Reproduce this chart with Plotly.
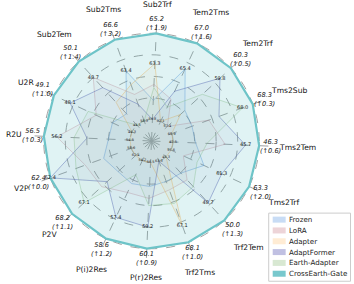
import math
import plotly.graph_objects as go

# ---------------- data ----------------
axes_names = ["Sub2Trf", "Tem2Tms", "Tem2Trf", "Tms2Sub", "Tms2Tem", "Tms2Trf", "Trf2Tem", "Trf2Tms",
              "P(r)2Res", "P(i)2Res", "P2V", "V2P", "R2U", "U2R", "Sub2Tem", "Sub2Tms"]

frozen       = [61.0, 65.4, 58.2, 66.5, 43.5, 60.0, 46.5, 64.5, 57.5, 55.5, 64.0, 59.5, 55.0, 45.5, 45.5, 63.4]
lora         = [62.0, 63.5, 57.4, 67.0, 44.8, 58.5, 47.0, 65.0, 58.0, 56.0, 65.5, 60.5, 56.2, 46.5, 48.7, 61.0]
adapter      = [63.3, 62.1, 58.0, 65.9, 42.5, 57.6, 45.3, 67.1, 56.5, 54.2, 62.4, 58.0, 54.5, 44.3, 46.5, 62.0]
adaptformer  = [59.8, 64.0, 59.8, 67.3, 45.7, 61.3, 48.7, 63.3, 59.2, 57.4, 65.0, 62.4, 55.5, 48.1, 47.8, 60.0]
earthadapter = [61.8, 63.0, 59.0, 68.0, 44.0, 59.5, 47.5, 65.8, 58.3, 55.0, 67.1, 61.0, 55.8, 47.0, 44.5, 58.3]
crossearth   = [65.2, 67.0, 60.3, 68.3, 46.3, 63.3, 50.0, 68.1, 60.1, 58.6, 68.2, 62.4, 56.5, 49.1, 50.1, 66.6]

series_names = ["Frozen", "LoRA", "Adapter", "AdaptFormer", "Earth-Adapter", "CrossEarth-Gate"]
series_values = [frozen, lora, adapter, adaptformer, earthadapter, crossearth]

# ---------------- styles ----------------
line_cols = ["rgba(90,150,225,0.45)", "rgba(200,120,135,0.35)", "rgba(255,190,110,0.55)",
             "rgba(80,80,170,0.45)", "rgba(130,180,110,0.35)", "rgb(110,196,200)"]
fill_cols = ["rgba(90,150,225,0.06)", "rgba(200,120,135,0.05)", "rgba(255,190,110,0.06)",
             "rgba(80,80,170,0.05)", "rgba(130,180,110,0.05)", "rgba(100,195,200,0.20)"]
swatch_cols = ["rgb(200,220,245)", "rgb(237,212,216)", "rgb(255,236,212)",
               "rgb(192,192,226)", "rgb(216,232,210)", "rgb(120,200,205)"]

n = len(axes_names)
baselines = series_values[:-1]
lo = [min(s[i] for s in series_values) for i in range(n)]
hi = [max(s[i] for s in series_values) for i in range(n)]
best_base = [max(s[i] for s in baselines) for i in range(n)]


def norm(vals):
    return [0.2 + 0.8 * (v - lo[i]) / (hi[i] - lo[i]) for i, v in enumerate(vals)]


fig = go.Figure()
theta_closed = axes_names + [axes_names[0]]
for k, (name, vals) in enumerate(zip(series_names, series_values)):
    r = norm(vals)
    fig.add_trace(go.Scatterpolar(
        r=r + [r[0]], theta=theta_closed, name=name, mode="lines",
        fill="toself", fillcolor=fill_cols[k], showlegend=False,
        line=dict(color=line_cols[k], width=2.2 if k == 5 else 1.0),
        hoverinfo="skip"))

fig.add_trace(go.Scatterpolar(
    r=[0.2] * n, theta=axes_names, mode="text", showlegend=False,
    text=[f"{v:.1f}" for v in lo], textfont=dict(size=3.5, color="#222", family="DejaVu Sans"),
    hoverinfo="skip"))
fig.add_trace(go.Scatterpolar(
    r=norm(best_base), theta=axes_names, mode="text", showlegend=False,
    text=[f"{v:.1f}" for v in best_base], textfont=dict(size=5, color="#222", family="DejaVu Sans"),
    hoverinfo="skip"))

# ---------------- layout ----------------
W, H = 354, 284
SCX, SCY = 151.5, 141          # polar centre in pixels
R1 = 108.0                     # pixel radius of r = 1
rmax = 1.1
ml = SCX - R1 * rmax
mt = SCY - R1 * rmax
side = 2 * R1 * rmax
mr = W - ml - side
mb = H - mt - side
rot = 87.5


def to_paper(px, py):
    return (px - ml) / side, (H - mb - py) / side


annotations = []
for i in range(n):
    ang = math.radians(rot - 360.0 / n * i)
    c, s = math.cos(ang), math.sin(ang)
    hw = 2.5 * len(axes_names[i])
    r_name = 132.0 + 0.8 * abs(c) * hw + 3.5 * abs(s)
    r_val = 113.0 + 6.5 * abs(c) + 4.0 * abs(s)
    for rad, txt, fnt in [
        (r_name, axes_names[i], dict(size=7.6, family="DejaVu Sans", color="#111")),
        (r_val, f"<i>{crossearth[i]:.1f}</i><br><i>(\u2191{crossearth[i] - best_base[i]:.1f})</i>",
         dict(size=6.6, family="DejaVu Sans", color="#111")),
    ]:
        x, y = to_paper(SCX + rad * c, SCY - rad * s)
        annotations.append(dict(
            x=x, y=y, xref="paper", yref="paper", borderpad=0, borderwidth=0,
            text=txt, showarrow=False, xanchor="center", yanchor="middle", align="center",
            font=fnt))

# custom legend (box, swatches, labels)
shapes = []
lx0, ly0, lx1, ly1 = 269, 213, 351, 281
bx0, by0 = to_paper(lx0, ly1)
bx1, by1 = to_paper(lx1, ly0)
shapes.append(dict(type="rect", xref="paper", yref="paper", x0=bx0, y0=by0, x1=bx1, y1=by1,
                   line=dict(color="#cccccc", width=1), fillcolor="rgba(255,255,255,0.9)", layer="above"))
for k, name in enumerate(series_names):
    yc = 219.5 + k * 10.8
    sx0, sy0 = to_paper(273, yc + 3)
    sx1, sy1 = to_paper(286, yc - 3)
    shapes.append(dict(type="rect", xref="paper", yref="paper", x0=sx0, y0=sy0, x1=sx1, y1=sy1,
                       line=dict(width=0), fillcolor=swatch_cols[k], layer="above"))
    tx, ty = to_paper(288.5, yc)
    annotations.append(dict(x=tx, y=ty, xref="paper", yref="paper", text=name, showarrow=False,
                            xanchor="left", yanchor="middle", borderpad=0,
                            font=dict(size=7.1, family="DejaVu Sans", color="#222")))

fig.update_layout(
    width=W, height=H,
    margin=dict(l=ml, r=mr, t=mt, b=mb, pad=0, autoexpand=False),
    paper_bgcolor="white",
    showlegend=False,
    hovermode=False,
    polar=dict(
        bgcolor="white",
        domain=dict(x=[0, 1], y=[0, 1]),
        radialaxis=dict(range=[0, rmax], tickvals=[0.2, 0.4, 0.6, 0.8, 1.0], showticklabels=False,
                        ticks="", showline=False, gridcolor="#a0a0a0", gridwidth=0.6, griddash="dash"),
        angularaxis=dict(rotation=rot, direction="clockwise", showticklabels=False, ticks="",
                         showline=False, gridcolor="#a0a0a0", gridwidth=0.6, griddash="dash"),
    ),
    annotations=annotations,
    shapes=shapes,
)

fig.write_html("out.html",
               config={"displayModeBar": False},
               post_script="document.body.style.margin='0px';document.body.style.padding='0px';")
